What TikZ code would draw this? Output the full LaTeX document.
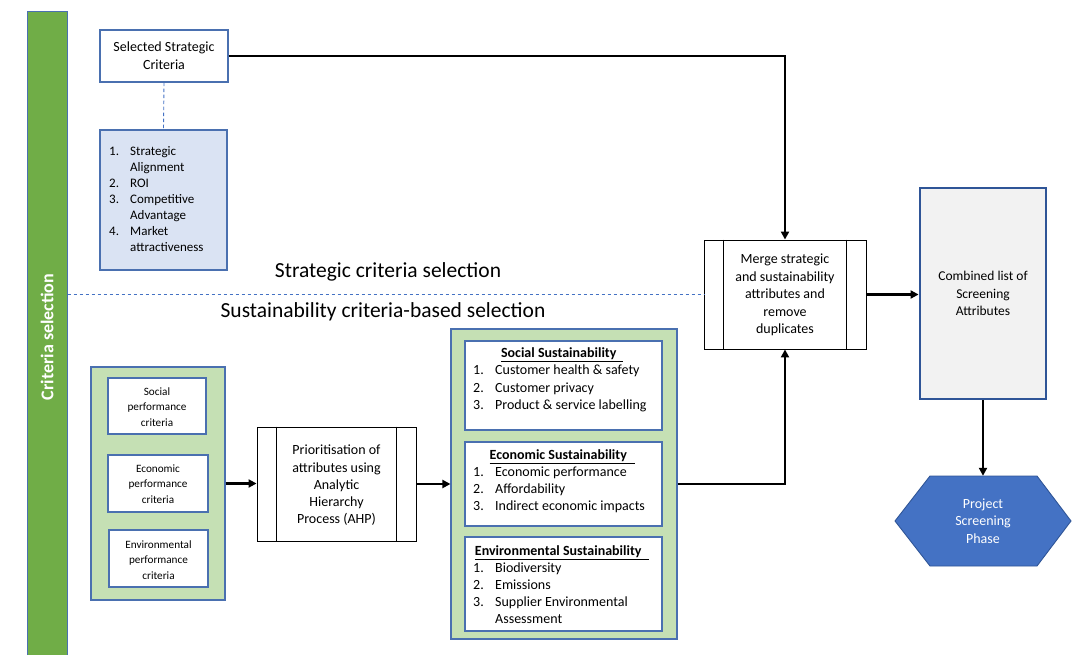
\documentclass[tikz,border=0pt]{standalone}
\usepackage{fontspec}
\setmainfont{Carlito}
\usetikzlibrary{arrows.meta}
\definecolor{bord}{HTML}{4A70B0}
\definecolor{barg}{HTML}{70AD47}
\definecolor{lgreen}{HTML}{C5E0B4}
\definecolor{lblue}{HTML}{DAE3F3}
\definecolor{dblue}{HTML}{2F5597}
\definecolor{hexb}{HTML}{4472C4}
\definecolor{lgray}{HTML}{F2F2F2}
\newcommand\fsz[2]{\fontsize{#1}{#2}\selectfont}
\newcommand\itmA[1]{\makebox[21pt][l]{#1}}
\newcommand\indA{\hspace*{21pt}}
\newcommand\itmB[1]{\makebox[22pt][l]{#1}}
\newcommand\indB{\hspace*{22pt}}
\begin{document}
\begin{tikzpicture}[x=1pt,y=-1pt,
  box/.style={draw=bord, line width=1.1pt, fill=white, inner sep=0pt},
  grp/.style={draw=bord, line width=1.1pt, fill=lgreen, inner sep=0pt},
  proc/.style={draw=black, line width=0.9pt, fill=white, inner sep=0pt},
  txt/.style={inner sep=0pt, align=center},
  ltxt/.style={inner sep=0pt, align=left},
  arr/.style={line width=2.2pt, -{Triangle[length=8pt,width=8pt]}},
  dsh/.style={draw=hexb, line width=0.9pt, dash pattern=on 3.5pt off 2.5pt}]
\useasboundingbox (0,0) rectangle (1074,655);
% side bar
\node[draw=bord, line width=1pt, fill=barg, minimum width=40pt, minimum height=650pt, inner sep=0pt] (bar) at (47,337) {};
\node[txt, rotate=90, text=white, font=\fsz{18}{20}\bfseries] (bart) at (47,337) {Criteria selection};
% strategic part
\node[box, minimum width=128pt, minimum height=52pt] (ssc) at (164,56) {};
\node[txt, font=\fsz{14}{18}] (ssct) at (164,56) {Selected Strategic\\Criteria};
\node[box, fill=lblue, minimum width=127pt, minimum height=140pt] (slist) at (163.5,200) {};
\node[ltxt, anchor=west, font=\fsz{13}{16}] (slistt) at (109,199) {\itmA{1.}Strategic\\\indA Alignment\\\itmA{2.}ROI\\\itmA{3.}Competitive\\\indA Advantage\\\itmA{4.}Market\\\indA attractiveness};
\draw[dsh] (ssc.south) -- (slist.north);
% section labels
\node[txt, font=\fsz{21.5}{24}] (lab1) at (388,272) {Strategic criteria selection};
\node[txt, font=\fsz{21.5}{24}] (lab2) at (383,312) {Sustainability criteria-based selection};
% left group
\node[grp, minimum width=134pt, minimum height=233pt] (lgrp) at (158,483.5) {};
\node[box, minimum width=98pt, minimum height=56pt] (soc) at (157,406) {};
\node[txt, font=\fsz{11.2}{15.3}] (soct) at (157,407) {Social\\performance\\criteria};
\node[box, minimum width=100pt, minimum height=57pt] (eco) at (158,483.5) {};
\node[txt, font=\fsz{11.2}{15.3}] (ecot) at (158,484) {Economic\\performance\\criteria};
\node[box, minimum width=99pt, minimum height=57pt] (env) at (158.5,558.5) {};
\node[txt, font=\fsz{11.2}{15.3}] (envt) at (158.5,560) {Environmental\\performance\\criteria};
% AHP
\node[proc, minimum width=159pt, minimum height=114pt] (ahp) at (336.5,484) {};
\draw[line width=0.9pt] ([xshift=20pt]ahp.north west) -- ([xshift=20pt]ahp.south west);
\draw[line width=0.9pt] ([xshift=-20pt]ahp.north east) -- ([xshift=-20pt]ahp.south east);
\node[txt, font=\fsz{14}{17.2}] (ahpt) at (336.5,485.5) {Prioritisation of\\attributes using\\Analytic\\Hierarchy\\Process (AHP)};
% right group
\node[grp, minimum width=226pt, minimum height=310pt] (rgrp) at (564,484) {};
\node[box, minimum width=197pt, minimum height=89pt] (ss) at (563.5,385.5) {};
\node[ltxt, anchor=west, font=\fsz{14}{17.5}] (sst) at (473,380) {\makebox[178pt][c]{\underline{\textbf{Social Sustainability}\hspace*{7pt}}}\\\itmB{1.}Customer health \& safety\\\itmB{2.}Customer privacy\\\itmB{3.}Product \& service labelling};
\node[box, minimum width=197pt, minimum height=84pt] (es) at (563.5,484) {};
\node[ltxt, anchor=west, font=\fsz{14}{17}] (est) at (473,481) {\makebox[178pt][c]{\underline{\textbf{Economic Sustainability}\hspace*{8pt}}}\\\itmB{1.}Economic performance\\\itmB{2.}Affordability\\\itmB{3.}Indirect economic impacts};
\node[box, minimum width=197pt, minimum height=94pt] (ens) at (563.5,584) {};
\node[ltxt, anchor=west, font=\fsz{14}{17}] (enst) at (473,585) {\makebox[178pt][c]{\underline{\textbf{Environmental Sustainability}\hspace*{8pt}}}\\\itmB{1.}Biodiversity\\\itmB{2.}Emissions\\\itmB{3.}Supplier Environmental\\\indB Assessment};
% merge
\node[proc, minimum width=162pt, minimum height=109pt] (merge) at (785,294.5) {};
\draw[line width=0.9pt] ([xshift=20pt]merge.north west) -- ([xshift=20pt]merge.south west);
\draw[line width=0.9pt] ([xshift=-20pt]merge.north east) -- ([xshift=-20pt]merge.south east);
\node[txt, font=\fsz{14}{17.5}] (merget) at (785,295) {Merge strategic\\and sustainability\\attributes and\\remove\\duplicates};
% combined
\node[draw=dblue, line width=2.8pt, fill=lgray, minimum width=126pt, minimum height=211pt, inner sep=0pt] (comb) at (983,293.5) {};
\node[txt, font=\fsz{13.5}{17.5}] (combt) at (983,293.5) {Combined list of\\Screening\\Attributes};
% hexagon
\filldraw[fill=hexb, draw=dblue, line width=0.9pt] (895,521) -- (930,476) -- (1037,476) -- (1071,521) -- (1037,566) -- (930,566) -- cycle;
\node[txt, text=white, font=\fsz{14}{17.5}, minimum height=90pt] (hex) at (983,521) {Project\\Screening\\Phase};
% dashed separator
\draw[dsh] (bar.east |- merge.west) -- (merge.west);
% connectors
\draw[arr] (ssc.east) -| (merge.north);
\draw[arr] (lgrp.east) -- (lgrp.east -| ahp.west);
\draw[arr] (ahp.east) -- (ahp.east -| rgrp.west);
\draw[arr] (rgrp.east) -| (merge.south);
\draw[arr] (merge.east) -- (merge.east -| comb.west);
\draw[arr] (comb.south) -- (hex.north);
\end{tikzpicture}
\end{document}
